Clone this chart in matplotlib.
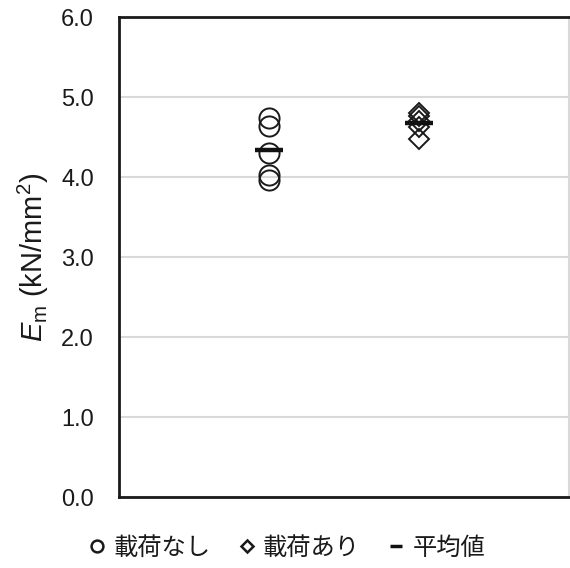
import matplotlib
matplotlib.use("Agg")
import matplotlib.pyplot as plt
from matplotlib.lines import Line2D
import numpy as np

plt.rcParams['font.family'] = ['Liberation Sans', 'Noto Sans CJK JP', 'DejaVu Sans']
plt.rcParams['mathtext.fontset'] = 'custom'
plt.rcParams['mathtext.rm'] = 'Liberation Sans'
plt.rcParams['mathtext.it'] = 'Liberation Sans:italic'

# Em values (kN/mm2) per specimen group
no_load = [4.74, 4.64, 4.30, 4.03, 3.96]
with_load = [4.80, 4.76, 4.70, 4.62, 4.47]
group_pos = [1, 2]
legend_labels = ['載荷なし', '載荷あり', '平均値']
yticks = [0.0, 1.0, 2.0, 3.0, 4.0, 5.0, 6.0]

fig = plt.figure(figsize=(5.70, 5.68), dpi=100)
ax = fig.add_axes([119/570, 1 - 497/568, 450/570, 480/568])

ax.set_xlim(0, 3)
ax.set_ylim(0, 6)
ax.set_yticks(yticks)
ax.set_yticklabels([f"{v:.1f}" for v in yticks], fontsize=17, color='#1a1a1a')
ax.set_xticks([])
ax.tick_params(axis='y', length=0, pad=18)
ax.grid(axis='y', color='#d9d9d9', linewidth=1.5, zorder=0)
ax.set_axisbelow(True)

for side in ['left', 'bottom', 'top']:
    ax.spines[side].set_color('#1a1a1a')
    ax.spines[side].set_linewidth(2.0)
ax.spines['right'].set_color('#d9d9d9')
ax.spines['right'].set_linewidth(1.5)

ax.plot([group_pos[0]] * len(no_load), no_load, linestyle='none', marker='o',
        markersize=14.5, markerfacecolor='none', markeredgecolor='#1a1a1a',
        markeredgewidth=1.4, zorder=3)
ax.plot([group_pos[1]] * len(with_load), with_load, linestyle='none', marker='D',
        markersize=10, markerfacecolor='none', markeredgecolor='#1a1a1a',
        markeredgewidth=1.4, zorder=3)

means = [np.mean(no_load), np.mean(with_load)]
ax.plot(group_pos, means, linestyle='none', marker='_', markersize=20,
        markeredgewidth=3.2, color='#111111', zorder=4)

ax.set_ylabel(r'$\mathit{E}_{\mathrm{m}}$ (kN/mm$^2$)', fontsize=21, labelpad=7,
              color='#1a1a1a')

handles = [
    Line2D([], [], linestyle='none', marker='o', markersize=8.5, markerfacecolor='none',
           markeredgecolor='#1a1a1a', markeredgewidth=1.8),
    Line2D([], [], linestyle='none', marker='D', markersize=6, markerfacecolor='none',
           markeredgecolor='#1a1a1a', markeredgewidth=1.8),
    Line2D([], [], linestyle='none', marker='_', markersize=9, markeredgewidth=2.5,
           color='#111111'),
]
fig.legend(handles, legend_labels, loc='center', bbox_to_anchor=(0.503, 1 - 548/568),
           ncol=3, frameon=False,
           prop={'family': ['Noto Sans CJK JP'], 'size': 17.5},
           handlelength=0.75, handletextpad=0.3, columnspacing=1.1,
           labelcolor='#1a1a1a')

fig.savefig('out.png', dpi=100)
